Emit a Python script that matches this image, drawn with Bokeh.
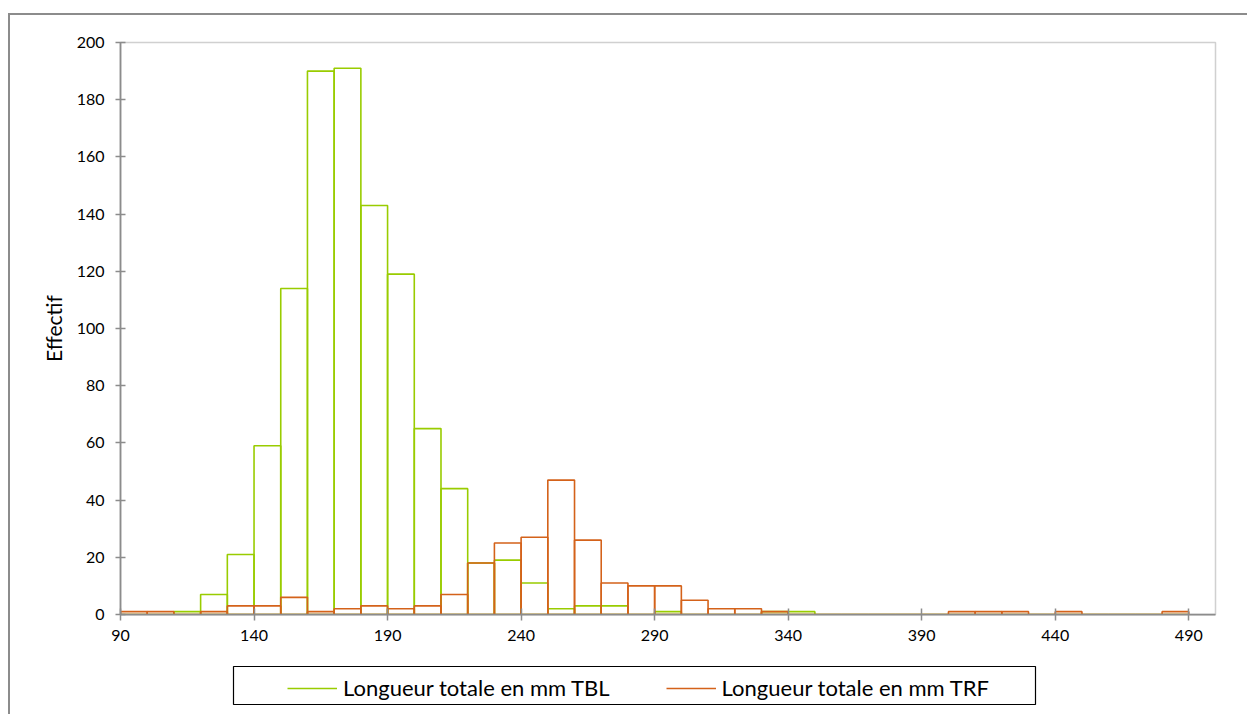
from bokeh.plotting import figure
from bokeh.layouts import column
from bokeh.models import (Range1d, FixedTicker, Legend, LegendItem, ColumnDataSource,
                          BoxAnnotation)
from bokeh.embed import file_html
from bokeh.resources import INLINE

# ---- data (histogram bins, width 10 mm) ----
bin_starts = [90, 100, 110, 120, 130, 140, 150, 160, 170, 180,
              190, 200, 210, 220, 230, 240, 250, 260, 270, 280,
              290, 300, 310, 320, 330, 340, 350, 360, 370, 380,
              390, 400, 410, 420, 430, 440, 450, 460, 470, 480]
bin_width = 10
tbl_counts = [0, 0, 1, 7, 21, 59, 114, 190, 191, 143,
              119, 65, 44, 18, 19, 11, 2, 3, 3, 0,
              1, 0, 0, 0, 1, 1, 0, 0, 0, 0,
              0, 0, 0, 0, 0, 0, 0, 0, 0, 0]
trf_counts = [1, 1, 0, 1, 3, 3, 6, 1, 2, 3,
              2, 3, 7, 18, 25, 27, 47, 26, 11, 10,
              10, 5, 2, 2, 1, 0, 0, 0, 0, 0,
              0, 1, 1, 1, 0, 1, 0, 0, 0, 1]
x_ticks = [90, 140, 190, 240, 290, 340, 390, 440, 490]
y_ticks = [0, 20, 40, 60, 80, 100, 120, 140, 160, 180, 200]
series_names = ["Longueur totale en mm TBL", "Longueur totale en mm TRF"]

GREEN = "#99CC00"
ORANGE = "#D4621A"
AXIS_GRAY = "#8C8C8C"
FONT = "Lato"

p = figure(frame_width=1095, frame_height=572,
           min_border_left=110, min_border_right=32,
           min_border_top=27, min_border_bottom=36,
           x_range=Range1d(90, 500), y_range=Range1d(0, 200),
           output_backend="svg", toolbar_location=None)

p.xgrid.visible = False
p.ygrid.visible = False
p.outline_line_color = "#D0D0D0"
p.outline_line_width = 1.5
p.background_fill_color = "white"
p.border_fill_color = "white"

def edges(counts):
    left = [b for b in bin_starts]
    right = [b + bin_width for b in bin_starts]
    return ColumnDataSource(dict(left=left, right=right, top=counts,
                                 bottom=[0] * len(counts)))

p.quad(left="left", right="right", top="top", bottom="bottom",
       source=edges(tbl_counts), fill_alpha=0, line_color=GREEN, line_width=1.6)
p.quad(left="left", right="right", top="top", bottom="bottom",
       source=edges(trf_counts), fill_alpha=0, line_color=ORANGE, line_width=1.6)

# axes
p.xaxis.ticker = FixedTicker(ticks=x_ticks)
p.yaxis.ticker = FixedTicker(ticks=y_ticks)
p.xaxis.minor_tick_line_color = None
p.yaxis.minor_tick_line_color = None
for ax in (p.xaxis[0], p.yaxis[0]):
    ax.axis_line_color = AXIS_GRAY
    ax.axis_line_width = 1.75
    ax.major_tick_line_color = AXIS_GRAY
    ax.major_tick_line_width = 1.5
    ax.major_label_text_font = FONT
    ax.major_label_text_font_size = "16px"
    ax.major_label_text_color = "black"
p.xaxis.major_tick_in = 6
p.xaxis.major_tick_out = 6
p.xaxis.major_label_standoff = 9
p.yaxis.major_tick_in = 5
p.yaxis.major_tick_out = 5
p.yaxis.major_label_standoff = 11
p.yaxis.axis_label = "Effectif"
p.yaxis.axis_label_text_font = FONT
p.yaxis.axis_label_text_font_size = "21px"
p.yaxis.axis_label_text_font_style = "normal"
p.yaxis.axis_label_text_color = "black"
p.yaxis.axis_label_standoff = 8

# legend panel, aligned with the main frame
leg = figure(frame_width=1095, frame_height=64,
             min_border_left=110, min_border_right=32,
             min_border_top=0, min_border_bottom=0,
             x_range=Range1d(0, 1), y_range=Range1d(0, 1),
             x_axis_location=None, y_axis_location=None,
             output_backend="svg", toolbar_location=None)
leg.xgrid.visible = False
leg.ygrid.visible = False
leg.outline_line_color = None
leg.add_layout(BoxAnnotation(left=113, right=915, top=48, bottom=10,
                             left_units="screen", right_units="screen",
                             top_units="screen", bottom_units="screen",
                             fill_alpha=0, line_color="black", line_alpha=1.0,
                             line_width=1.2))
nan = float("nan")
lg = leg.line(x=[nan], y=[nan], line_color=GREEN, line_width=1.6)
lo = leg.line(x=[nan], y=[nan], line_color=ORANGE, line_width=1.6)
legend = Legend(items=[LegendItem(label=series_names[0], renderers=[lg]),
                       LegendItem(label=series_names[1], renderers=[lo])],
                orientation="horizontal", location=(167, 13),
                border_line_alpha=0, background_fill_alpha=0,
                padding=0, spacing=56, glyph_width=50, glyph_height=20,
                label_standoff=6, label_text_font=FONT,
                label_text_font_size="22px", label_text_color="black")
leg.add_layout(legend, "center")

layout = column(p, leg, spacing=0, margin=(13, 0, 0, 8),
                styles={"border-top": "2px solid #8C8C8C",
                        "border-left": "2px solid #8C8C8C"})

open("out.html", "w").write(file_html(layout, INLINE))
